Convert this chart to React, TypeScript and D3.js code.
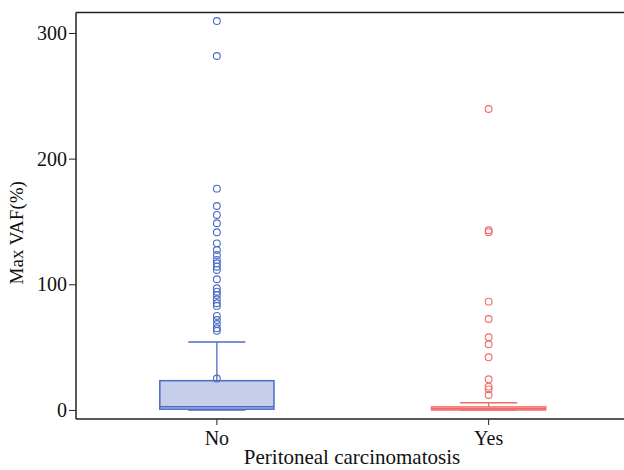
import React, { useRef, useEffect } from "react";
import * as d3 from "d3";

// Grupos y estadísticos del boxplot
const groups = ["No", "Yes"];
const q1 = [0.6, 0];
const medians = [2.5, 1];
const q3 = [23.3, 2.4];
const whiskerLow = [0, 0];
const whiskerHigh = [54, 5.8];
const noOutliers = [
  25, 63, 65, 68.4, 71.6, 74.8, 82.8, 84.9, 88.1, 91.5, 94.1, 96.8, 104, 111.4,
  114, 116.7, 119.4, 123.3, 127.3, 132.6, 141.4, 148.6, 155.2, 162.3, 176.1,
  281.7, 309.5,
];
const yesOutliers = [
  11.9, 16.4, 18.6, 24.4, 41.9, 52.3, 57.8, 72.4, 86.2, 141.5, 143, 239.5,
];
const yTicks = [0, 100, 200, 300];
const strokes = ["#4a6bc6", "#f26a6a"];
const fills = ["#c7cee9", "#f9d3d3"];

const App = () => {
  const ref = useRef<SVGSVGElement>(null);
  const width = 624,
    height = 470;

  useEffect(() => {
    const svg = d3.select(ref.current);
    svg.selectChildren().remove();
    const margin = { top: 12.5, left: 76, bottom: 51, right: 0 };
    const bottom = height - margin.bottom;

    const x = d3
      .scaleBand()
      .domain(groups)
      .range([81, width + 0.5]);
    const y = d3.scaleLinear().domain([-7.2, 316.3]).range([bottom, margin.top]);
    const font = "'Liberation Serif', 'Times New Roman', serif";

    const g = svg.append("g").style("font-family", font);

    // Cajas
    const boxW = x.bandwidth() * 0.42;
    const capW = boxW / 2;
    const outliers = [noOutliers, yesOutliers];
    groups.forEach((grp, i) => {
      const cx = x(grp)! + x.bandwidth() / 2;
      const c = strokes[i];
      // bigotes
      g.append("line")
        .attr("x1", cx)
        .attr("x2", cx)
        .attr("y1", y(q3[i]))
        .attr("y2", y(whiskerHigh[i]))
        .attr("stroke", c)
        .attr("stroke-width", 1.3);
      g.append("line")
        .attr("x1", cx)
        .attr("x2", cx)
        .attr("y1", y(q1[i]))
        .attr("y2", y(whiskerLow[i]))
        .attr("stroke", c)
        .attr("stroke-width", 1.3);
      [whiskerHigh[i], whiskerLow[i]].forEach((v) => {
        g.append("line")
          .attr("x1", cx - capW / 2)
          .attr("x2", cx + capW / 2)
          .attr("y1", y(v))
          .attr("y2", y(v))
          .attr("stroke", c)
          .attr("stroke-width", 1.5);
      });
      g.append("rect")
        .attr("x", cx - boxW / 2)
        .attr("width", boxW)
        .attr("y", y(q3[i]))
        .attr("height", Math.max(y(q1[i]) - y(q3[i]), 1))
        .attr("fill", fills[i])
        .attr("stroke", c)
        .attr("stroke-width", 1.5);
      g.append("line")
        .attr("x1", cx - boxW / 2)
        .attr("x2", cx + boxW / 2)
        .attr("y1", y(medians[i]))
        .attr("y2", y(medians[i]))
        .attr("stroke", c)
        .attr("stroke-width", 1.5);
      g.selectAll(null)
        .data(outliers[i])
        .enter()
        .append("circle")
        .attr("cx", cx)
        .attr("cy", (d) => y(d))
        .attr("r", 3.4)
        .attr("fill", "none")
        .attr("stroke", c)
        .attr("stroke-width", 1.1);
    });

    // Marco
    const frame = "#222";
    g.append("line")
      .attr("x1", margin.left)
      .attr("x2", margin.left)
      .attr("y1", margin.top)
      .attr("y2", bottom)
      .attr("stroke", frame)
      .attr("stroke-width", 1.5);
    [margin.top, bottom].forEach((yy) =>
      g
        .append("line")
        .attr("x1", margin.left)
        .attr("x2", width)
        .attr("y1", yy)
        .attr("y2", yy)
        .attr("stroke", frame)
        .attr("stroke-width", 1.5)
    );

    // Ejes
    const yAxis = g
      .append("g")
      .attr("transform", `translate(${margin.left},0)`)
      .call(d3.axisLeft(y).tickValues(yTicks).tickSize(7).tickPadding(2));
    yAxis.select(".domain").remove();
    yAxis.selectAll("text").style("font-size", "20px").style("font-family", font).attr("fill", "#111");
    yAxis.selectAll("line").attr("stroke", frame);

    const xAxis = g
      .append("g")
      .attr("transform", `translate(0,${bottom})`)
      .call(d3.axisBottom(x).tickSize(6).tickPadding(6));
    xAxis.select(".domain").remove();
    xAxis.selectAll("text").style("font-size", "20px").style("font-family", font).attr("fill", "#111");
    xAxis.selectAll("line").attr("stroke", frame);

    // Títulos
    g.append("text")
      .attr("x", 352)
      .attr("y", 464)
      .attr("text-anchor", "middle")
      .style("font-size", "21px")
      .attr("fill", "#111")
      .text("Peritoneal carcinomatosis");
    g.append("text")
      .attr("transform", `translate(23,${(margin.top + bottom) / 2 + 17}) rotate(-90)`)
      .attr("text-anchor", "middle")
      .style("font-size", "19px")
      .attr("fill", "#111")
      .text("Max VAF(%)");
  }, []);

  return (
    <svg
      ref={ref}
      width={width}
      height={height}
      style={{ position: "absolute", left: 0, top: 0, background: "#fff" }}
    />
  );
};

export default App;
